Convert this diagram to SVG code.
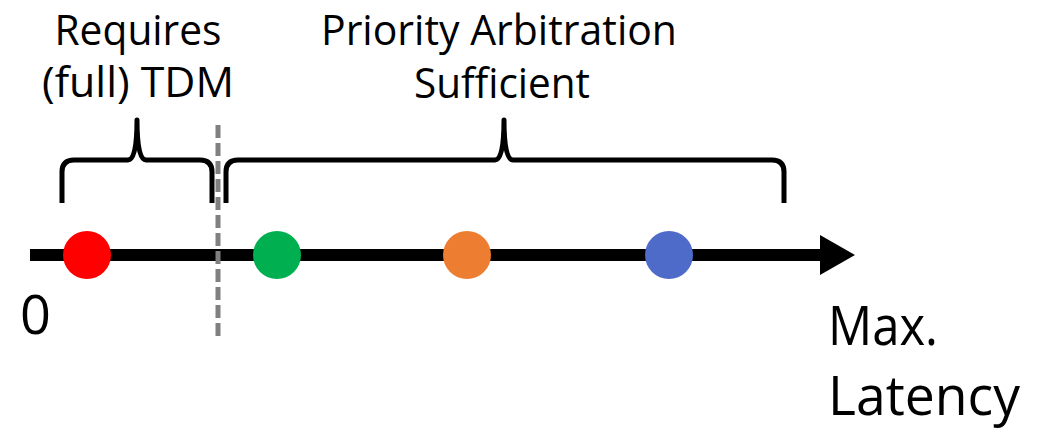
<svg xmlns="http://www.w3.org/2000/svg" width="1053" height="429" viewBox="0 0 1053 429">
<style>
text{font-family:"Open Sans","Noto Sans","Liberation Sans",sans-serif;fill:#000}
.top{font-size:42px}
.big{font-size:54px}
.brace{fill:none;stroke:#000;stroke-width:5;stroke-linejoin:round;stroke-linecap:butt}
.dot{stroke:none}
</style>
<rect width="1053" height="429" fill="#fff"/>
<g id="connectors">
<line x1="30" y1="255" x2="822" y2="255" stroke="#000" stroke-width="12"/>
<polygon points="820,235 855,255 820,275" fill="#000"/>
<line x1="218" y1="125" x2="218" y2="340" stroke="#808080" stroke-width="5" stroke-dasharray="13,5"/>
</g>
<g id="brace-left">
<path class="brace" d="M62,203 V172 Q62,160 74,160 H128 Q137,160 137,120 Q137,160 146,160 H200 Q212,160 212,172 V203"/>
</g>
<g id="brace-right">
<path class="brace" d="M226,203 V172 Q226,160 238,160 H495 Q504,160 504,120 Q504,160 513,160 H772 Q784,160 784,172 V203"/>
</g>
<g id="label-tdm">
<text class="top" x="138" y="45" text-anchor="middle" textLength="167" lengthAdjust="spacingAndGlyphs">Requires</text>
<text class="top" x="138" y="97" text-anchor="middle" textLength="192" lengthAdjust="spacingAndGlyphs">(full) TDM</text>
</g>
<g id="label-priority">
<text class="top" x="499" y="45" text-anchor="middle" textLength="356" lengthAdjust="spacingAndGlyphs">Priority Arbitration</text>
<text class="top" x="502" y="98" text-anchor="middle" textLength="176" lengthAdjust="spacingAndGlyphs">Sufficient</text>
</g>
<g id="dot-red"><circle class="dot" cx="87" cy="255" r="24" fill="#ff0000"/></g>
<g id="dot-green"><circle class="dot" cx="277" cy="255" r="24" fill="#00b050"/></g>
<g id="dot-orange"><circle class="dot" cx="467" cy="255" r="24" fill="#ed7d31"/></g>
<g id="dot-blue"><circle class="dot" cx="669" cy="255" r="24" fill="#4f6bca"/></g>
<g id="label-zero"><text class="big" x="20" y="334">0</text></g>
<g id="label-axis">
<text class="big" x="828" y="345" textLength="110" lengthAdjust="spacingAndGlyphs">Max.</text>
<text class="big" x="828" y="415" textLength="192" lengthAdjust="spacingAndGlyphs">Latency</text>
</g>
</svg>
